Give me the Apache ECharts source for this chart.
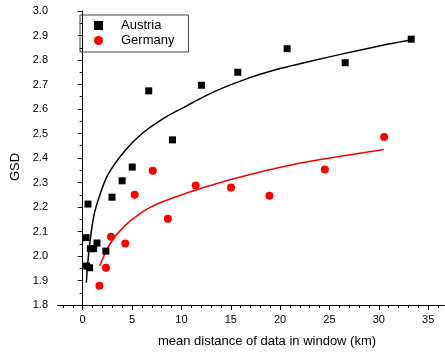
<!DOCTYPE html>
<html>
<head>
<meta charset="utf-8">
<script src="https://cdn.jsdelivr.net/npm/echarts@6/dist/echarts.min.js"></script>
<style>
  html, body { margin: 0; padding: 0; background: #fff; }
  #chart { width: 445px; height: 355px; }
</style>
</head>
<body>
<div id="chart"></div>
<script>
// measured points
const austriaX = [0.34, 0.54, 0.4, 0.7, 0.78, 1.11, 1.45, 2.35, 2.97, 4.0, 5.02, 6.69, 9.1, 12.03, 15.71, 20.71, 26.59, 33.28];
const austriaY = [2.075, 2.212, 1.959, 1.952, 2.03, 2.03, 2.053, 2.02, 2.24, 2.307, 2.363, 2.674, 2.474, 2.697, 2.75, 2.846, 2.789, 2.885];
const germanyX = [1.7, 2.36, 2.87, 4.32, 5.27, 7.1, 8.63, 11.45, 15.03, 18.92, 24.53, 30.54];
const germanyY = [1.879, 1.952, 2.079, 2.051, 2.25, 2.348, 2.152, 2.288, 2.28, 2.246, 2.353, 2.486];

// fit curves
const austriaFitX = [0.37, 0.61, 1.11, 1.79, 2.63, 4.32, 6.02, 8.04, 10.4, 13.28, 16.66, 20.0, 23.07, 26.45, 30.85, 33.28];
const austriaFitY = [1.891, 2.011, 2.16, 2.255, 2.337, 2.432, 2.5, 2.558, 2.61, 2.67, 2.724, 2.765, 2.795, 2.826, 2.864, 2.883];
const germanyFitX = [1.72, 2.8, 4.15, 5.84, 7.53, 10.91, 12.94, 15.3, 18.69, 22.07, 24.1, 30.5];
const germanyFitY = [1.959, 2.052, 2.119, 2.174, 2.212, 2.262, 2.288, 2.315, 2.35, 2.38, 2.394, 2.435];

const xMajor = [0, 5, 10, 15, 20, 25, 30, 35];
const xMinor = [-2, -1, 0, 1, 2, 3, 4, 5, 6, 7, 8, 9, 10, 11, 12, 13, 14, 15, 16, 17, 18, 19, 20,
  21, 22, 23, 24, 25, 26, 27, 28, 29, 30, 31, 32, 33, 34, 35, 36];

const font = 'Liberation Sans, Arial, sans-serif';
const pairs = (xs, ys) => xs.map((x, i) => [x, ys[i]]);

const chart = echarts.init(document.getElementById('chart'));
chart.setOption({
  animation: false,
  backgroundColor: '#fff',
  grid: { left: 58, right: 1, top: 11, bottom: 50 },
  legend: {
    data: ['Austria', 'Germany'],
    orient: 'vertical',
    left: 80,
    top: 15,
    padding: [4, 14, 5, 14],
    itemGap: 2,
    itemWidth: 9,
    itemHeight: 9,
    borderColor: '#444',
    borderWidth: 1,
    itemStyle: { opacity: 1 },
    textStyle: { fontFamily: font, fontSize: 13, color: '#000', padding: [0, 0, 0, 13] }
  },
  xAxis: [{
    type: 'value',
    min: -2.5,
    max: 36.6,
    splitLine: { show: false },
    axisLine: { onZero: false, lineStyle: { color: '#000', width: 1 } },
    axisTick: { customValues: xMajor, length: 5, lineStyle: { color: '#000' } },
    axisLabel: { customValues: xMajor, margin: 9, fontFamily: font, fontSize: 11, color: '#000' },
    name: 'mean distance of data in window (km)',
    nameLocation: 'middle',
    nameGap: 30,
    nameTextStyle: { fontFamily: font, fontSize: 13, color: '#000', padding: [0, 0, 0, 32] }
  }, {
    type: 'value',
    gridIndex: 0,
    position: 'bottom',
    offset: 0,
    min: -2.5,
    max: 36.6,
    splitLine: { show: false },
    axisLine: { show: true, onZero: false, lineStyle: { color: '#000', width: 1 } },
    axisTick: { show: true, customValues: xMinor, length: 3, lineStyle: { color: '#000' } },
    axisLabel: { show: false, customValues: xMinor }
  }],
  yAxis: {
    type: 'value',
    min: 1.8,
    max: 3.0,
    interval: 0.1,
    splitLine: { show: false },
    axisLine: { show: true, lineStyle: { color: '#000', width: 1 } },
    axisTick: { show: true, length: 5, lineStyle: { color: '#000' } },
    minorTick: { show: true, splitNumber: 2, length: 3, lineStyle: { color: '#000' } },
    axisLabel: { margin: 10, fontFamily: font, fontSize: 11, color: '#000', formatter: v => v.toFixed(1) },
    name: 'GSD',
    nameLocation: 'middle',
    nameGap: 30,
    nameTextStyle: { fontFamily: font, fontSize: 13, color: '#000', padding: [0, 18, 0, 0] }
  },
  series: [
    {
      name: 'Austria fit', type: 'line', data: pairs(austriaFitX, austriaFitY),
      showSymbol: false, smooth: 0.35,
      lineStyle: { color: '#000', width: 1.5 }, z: 2
    },
    {
      name: 'Germany fit', type: 'line', data: pairs(germanyFitX, germanyFitY),
      showSymbol: false, smooth: 0.35,
      lineStyle: { color: '#ff0000', width: 1.5 }, z: 2
    },
    {
      name: 'Austria', type: 'scatter', data: pairs(austriaX, austriaY),
      symbol: 'rect', symbolSize: 7, itemStyle: { color: '#000', opacity: 1 }, z: 3
    },
    {
      name: 'Germany', type: 'scatter', data: pairs(germanyX, germanyY),
      symbol: 'circle', symbolSize: 8, itemStyle: { color: '#ff0000', opacity: 1 }, z: 3
    }
  ]
});
</script>
</body>
</html>
